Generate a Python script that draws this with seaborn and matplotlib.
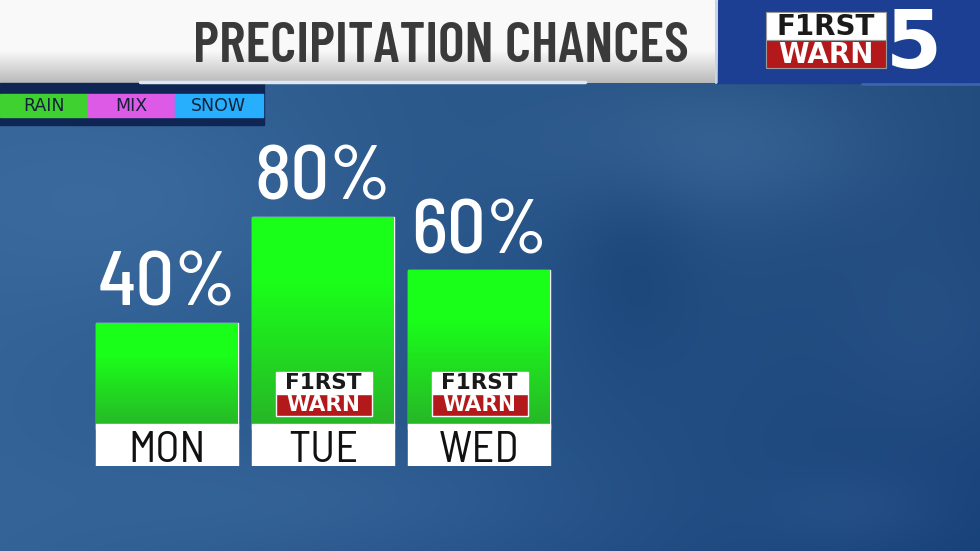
import numpy as np
import pandas as pd
import seaborn as sns
import matplotlib.pyplot as plt
from matplotlib.patches import Rectangle

# chart data
days = ["MON", "TUE", "WED"]
chances = [40, 80, 60]
has_logo = [False, True, True]
legend_labels = ["RAIN", "MIX", "SNOW"]
legend_colors = ["#3fd12f", "#dc5ae6", "#27aefc"]
title = "PRECIPITATION CHANCES"

sns.set_theme(style="white")
plt.rcParams["font.family"] = ["DejaVu Sans"]
COND = ["Barlow Condensed", "Fira Sans Condensed", "DejaVu Sans"]
SEMI = ["Barlow Semi Condensed", "Barlow Condensed", "DejaVu Sans"]

W, H = 980, 551
fig = plt.figure(figsize=(W / 100, H / 100), dpi=100)

# background panel in pixel coordinates
bg = fig.add_axes([0, 0, 1, 1])
yy, xx = np.mgrid[0:H, 0:W]
tx = (xx / W)[..., None]
ty = (yy / H)[..., None]
left = np.array([50, 98, 150]) / 255
right = np.array([36, 78, 126]) / 255
img = left * (1 - tx) + right * tx
img = img - np.array([0.05, 0.05, 0.02]) * (tx * ty)


def blob(cx, cy, sx, sy, amp):
    return amp * np.exp(-(((xx - cx) / sx) ** 2 + ((yy - cy) / sy) ** 2))


shade = (blob(140, 200, 200, 110, 0.04) + blob(720, 150, 170, 70, 0.06)
         + blob(940, 330, 100, 110, 0.03) - blob(630, 260, 70, 110, 0.035)
         + blob(330, 500, 260, 60, 0.035) + blob(850, 510, 90, 40, 0.03))
img = np.clip(img + shade[..., None], 0, 1)
bg.imshow(img, extent=(0, W, H, 0), aspect="auto", zorder=0)

# header band
rows = np.arange(83)
hg = np.ones((83, 1, 3))
hg[:, 0, :] = np.where(rows < 50, 0.98, 0.98 - (rows - 50) / 33 * 0.26)[:, None]
bg.imshow(hg, extent=(0, 718, 83, 0), aspect="auto", zorder=1)
bg.add_patch(Rectangle((718, 0), 262, 83, color="#1d3f93", zorder=1))
bg.plot([716, 716], [0, 83], color="#c9d2e6", lw=1.5, zorder=2)
bg.plot([140, 585], [82, 82], color="#dfe8f2", lw=2.5, zorder=2)
bg.plot([862, 980], [83.5, 83.5], color="#3a64b0", lw=2, zorder=2)
bg.text(689, 62, title, ha="right", va="baseline", fontsize=41,
        fontweight="semibold", color="#3a3a3a", zorder=3, family=COND)

# top logo
bg.add_patch(Rectangle((766, 12), 120, 28, fc="white", ec="#9a9a9a", lw=0.8, zorder=3))
bg.add_patch(Rectangle((766, 40), 120, 28, fc="#b3191b", ec="#9a9a9a", lw=0.8, zorder=3))
bg.text(826, 27, "F1RST", ha="center", va="center", fontsize=20,
        fontweight="bold", color="#1a1a1a", zorder=4)
bg.text(826, 55, "WARN", ha="center", va="center", fontsize=20,
        fontweight="bold", color="white", zorder=4)
bg.text(914, 68, "5", ha="center", va="baseline", fontsize=58,
        fontweight="bold", color="white", zorder=4)

# legend strip
bg.add_patch(Rectangle((0, 83), 264, 42, color="#0f2553", zorder=1))
for i, (lab, col) in enumerate(zip(legend_labels, legend_colors)):
    bg.add_patch(Rectangle((i * 87.5, 94), 87.5, 23, color=col, zorder=2))
    bg.text(i * 87.5 + 43.75, 111, lab, ha="center", va="baseline",
            fontsize=12.5, color="#13223a", zorder=3)

bg.set_xlim(0, W)
bg.set_ylim(H, 0)
bg.axis("off")

# bars
px = 2.65
ax = fig.add_axes([89 / W, (H - 466) / H, 468 / W, (466 - 100) / H])
ax.patch.set_alpha(0)
df = pd.DataFrame({"day": days, "chance": chances})
sns.barplot(data=df, x="day", y="chance", ax=ax, width=0.91,
            color="#22ee22", saturation=1, errorbar=None)

ylo = -(466 - 429) / px
yhi_box = (429 - 424) / px
g = np.linspace(0, 1, 200)
g = np.clip((g - 0.3) / 0.7, 0, 1)[:, None]
top = np.array([26, 255, 26]) / 255
bot = np.array([40, 180, 40]) / 255
green = (top * (1 - g) + bot * g)[:, None, :]

for p, v, day, logo in zip(ax.patches, chances, days, has_logo):
    x0, w, h = p.get_x(), p.get_width(), p.get_height()
    xc = x0 + w / 2
    ax.imshow(green, extent=(x0, x0 + w, 0, h), aspect="auto", zorder=2)
    ax.add_patch(Rectangle((x0, ylo), w, yhi_box - ylo, color="white", zorder=3))
    ax.text(xc, (429 - 462) / px, day, ha="center", va="baseline",
            fontsize=32, color="#111111", zorder=4, family=SEMI)
    ax.text(xc, v + 17 / px, f"{v}%", ha="center", va="baseline",
            fontsize=55, fontweight="medium", color="white", zorder=4, family=SEMI)
    if logo:
        lw = 96 / 156
        lx = xc - lw / 2 + 0.006
        ax.add_patch(Rectangle((lx, 13.2), lw, 8.3, fc="white", zorder=3))
        ax.add_patch(Rectangle((lx, 4.9), lw, 8.3, fc="#b3191b", zorder=3))
        ax.text(xc, 17.35, "F1RST", ha="center", va="center", fontsize=15.5,
                fontweight="bold", color="#1a1a1a", zorder=4)
        ax.text(xc, 9.05, "WARN", ha="center", va="center", fontsize=15.5,
                fontweight="bold", color="white", zorder=4)

ax.set_xlim(-0.5, 2.5)
ax.set_ylim(ylo, (429 - 100) / px)
ax.axis("off")

fig.savefig("out.png", dpi=100)
